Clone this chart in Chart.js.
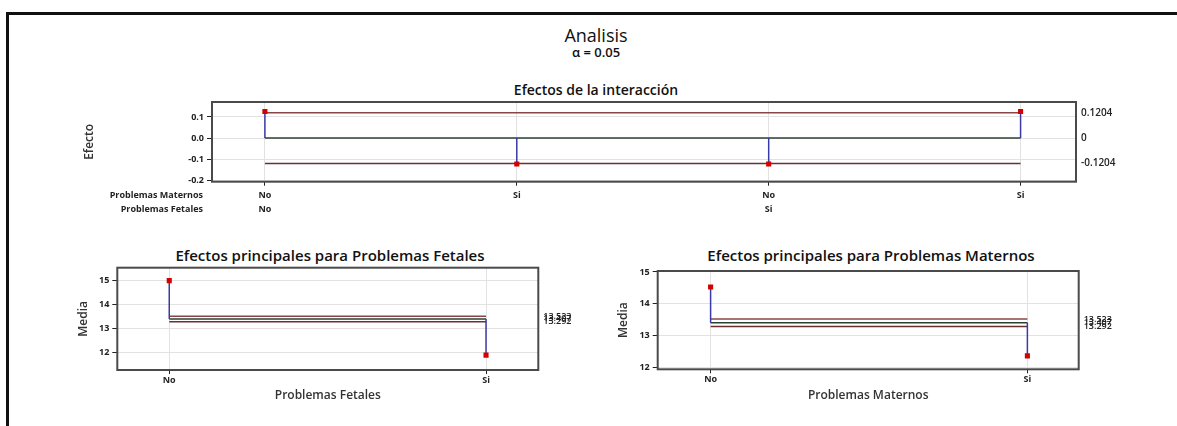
<!DOCTYPE html>
<html lang="es">
<head>
  <meta charset="UTF-8">
  <title>Analisis</title>
  <script src="https://cdn.jsdelivr.net/npm/chart.js"></script>
  <style>
    html,
    body {
      margin: 0;
      padding: 0;
      background: #fff;
      overflow: hidden;
    }

    body {
      width: 1177px;
      height: 426px;
      position: relative;
      font-family: "Open Sans", sans-serif;
      color: #111;
    }

    .frame {
      position: absolute;
      left: 6px;
      top: 12px;
      width: 1200px;
      height: 500px;
      border: 3px solid #111;
    }

    .txt {
      position: absolute;
      white-space: nowrap;
      transform: translate(-50%, -50%);
      line-height: 1;
    }

    .box {
      position: absolute;
    }
  </style>
</head>

<body>
  <div class="frame"></div>

  <div class="txt" style="left:596px; top:35px; font-size:18px; font-weight:500;">Analisis</div>
  <div class="txt" style="left:596px; top:52px; font-size:13px; font-weight:600;">α = 0.05</div>
  <div class="txt" style="left:596px; top:90px; font-size:14px; font-weight:600;">Efectos de la interacción</div>
  <div class="txt" style="left:330px; top:255px; font-size:15px; font-weight:600;">Efectos principales para Problemas Fetales</div>
  <div class="txt" style="left:871px; top:255px; font-size:15px; font-weight:600;">Efectos principales para Problemas Maternos</div>

  <canvas id="interChart" class="box" style="left:0; top:95px;" width="1177" height="125"></canvas>
  <canvas id="fetalChart" class="box" style="left:0; top:240px;" width="590" height="186"></canvas>
  <canvas id="maternalChart" class="box" style="left:590px; top:240px;" width="587" height="186"></canvas>

  <script>
    // --- data ---
    // interaction panel
    const interMaternos = ['No', 'Si', 'No', 'Si'];
    const interFetales = ['No', 'No', 'Si', 'Si'];
    const interEffects = [0.126, -0.123, -0.123, 0.126];
    const interCenter = 0;
    const interLimits = [0.1204, -0.1204];
    const interLimitLabels = ['0.1204', '0', '-0.1204'];
    const interYTicks = [-0.2, -0.1, 0.0, 0.1];

    // main effects panels
    const levels = ['No', 'Si'];
    const fetalMeans = [15.0, 11.9];
    const maternalMeans = [14.53, 12.37];
    const meanCenter = 13.407;
    const meanLimits = [13.523, 13.292];
    const meanLimitLabels = ['13.523', '13.407', '13.292'];
    const fetalYTicks = [12, 13, 14, 15];
    const maternalYTicks = [12, 13, 14, 15];

    Chart.defaults.font.family = '"Open Sans", sans-serif';
    Chart.defaults.color = '#222';

    const RED = '#d40000';
    const STEM = '#3a3aa6';
    const UPPER = '#8a4545';
    const MID = '#2c3f30';
    const LOWER = '#6a3030';
    const GRID = '#e2e2e2';

    // box round the plot area
    const plotBox = {
      id: 'plotBox',
      afterDraw(chart) {
        const { ctx, chartArea: a } = chart;
        ctx.save();
        ctx.strokeStyle = '#4a4a4a';
        ctx.lineWidth = 2;
        ctx.strokeRect(a.left, a.top, a.right - a.left, a.bottom - a.top);
        ctx.restore();
      }
    };

    function pts(xs, y) {
      return xs.map(x => ({ x: x, y: y }));
    }

    function stems(values, center) {
      const out = [];
      values.forEach((v, i) => {
        out.push({ x: i, y: center }, { x: i, y: v }, { x: i, y: null });
      });
      return out;
    }

    function buildDatasets(values, center, limits) {
      const last = values.length - 1;
      return [
        {
          data: values.map((v, i) => ({ x: i, y: v })),
          showLine: false,
          pointStyle: 'rect',
          pointRadius: 3.6,
          pointBackgroundColor: RED,
          pointBorderWidth: 0
        },
        { data: stems(values, center), borderColor: STEM, borderWidth: 1.5, pointRadius: 0, spanGaps: false },
        { data: pts([0, last], limits[0]), borderColor: UPPER, borderWidth: 1.5, pointRadius: 0 },
        { data: pts([0, last], center), borderColor: MID, borderWidth: 1.5, pointRadius: 0 },
        { data: pts([0, last], limits[1]), borderColor: LOWER, borderWidth: 1.5, pointRadius: 0 }
      ];
    }

    // fixed axis sizes so the plot areas land where they should
    function fixSize(s, w, h) {
      if (w !== undefined) s.width = w;
      if (h !== undefined) s.height = h;
      s.paddingTop = 0;
      s.paddingBottom = 0;
      s.paddingLeft = 0;
      s.paddingRight = 0;
    }

    function makeChart(id, cfg) {
      const limitVals = [cfg.limits[0], cfg.center, cfg.limits[1]];
      return new Chart(document.getElementById(id), {
        type: 'line',
        data: { datasets: buildDatasets(cfg.values, cfg.center, cfg.limits) },
        options: {
          responsive: false,
          animation: false,
          layout: { padding: cfg.padding },
          plugins: { legend: { display: false }, tooltip: { enabled: false } },
          scales: {
            x: {
              type: 'linear',
              min: cfg.xMin,
              max: cfg.xMax,
              afterBuildTicks: s => { s.ticks = cfg.values.map((v, i) => ({ value: i })); },
              afterFit: s => fixSize(s, undefined, cfg.xHeight),
              ticks: {
                autoSkip: false,
                maxRotation: 0,
                padding: cfg.xPad,
                font: { size: 9, weight: 'bold', lineHeight: cfg.xLineHeight },
                color: '#222',
                callback: cfg.xLabel
              },
              grid: { color: GRID, tickColor: '#222', tickLength: 4 },
              border: { display: false },
              title: cfg.xTitle ? {
                display: true,
                text: cfg.xTitle,
                font: { size: 12, weight: '600' },
                color: '#333',
                padding: 0
              } : { display: false }
            },
            y: {
              min: cfg.yMin,
              max: cfg.yMax,
              afterBuildTicks: s => { s.ticks = cfg.yTicks.map(v => ({ value: v })); },
              afterFit: s => fixSize(s, cfg.yWidth),
              ticks: {
                autoSkip: false,
                padding: 3,
                font: { size: 9, weight: 'bold' },
                color: '#222',
                callback: cfg.yLabel
              },
              grid: { color: GRID, tickColor: '#222', tickLength: 5 },
              border: { display: false },
              title: {
                display: true,
                text: cfg.yTitle,
                font: { size: 12, weight: '600' },
                color: '#333',
                padding: 0
              }
            },
            y2: {
              position: 'right',
              min: cfg.yMin,
              max: cfg.yMax,
              afterBuildTicks: s => { s.ticks = limitVals.map(v => ({ value: v })); },
              afterFit: s => fixSize(s, cfg.y2Width),
              ticks: {
                autoSkip: false,
                padding: 5,
                font: { size: cfg.y2Size, weight: '600' },
                color: '#222',
                callback: (v, i) => cfg.limitLabels[i]
              },
              grid: { display: false, drawTicks: false },
              border: { display: false }
            }
          }
        },
        plugins: [plotBox].concat(cfg.extra || [])
      });
    }

    // row names in front of the two label rows of the interaction panel
    const rowNames = {
      id: 'rowNames',
      afterDraw(chart) {
        const { ctx, chartArea: a } = chart;
        ctx.save();
        ctx.font = 'bold 9px "Open Sans", sans-serif';
        ctx.fillStyle = '#222';
        ctx.textAlign = 'right';
        ctx.textBaseline = 'middle';
        ctx.fillText('Problemas Maternos', a.left - 9, a.bottom + 13.5);
        ctx.fillText('Problemas Fetales', a.left - 9, a.bottom + 27.5);
        ctx.restore();
      }
    };

    makeChart('interChart', {
      values: interEffects,
      center: interCenter,
      limits: interLimits,
      limitLabels: interLimitLabels,
      yTicks: interYTicks,
      yMin: -0.207,
      yMax: 0.171,
      xMin: -0.21,
      xMax: 3.22,
      padding: { left: 82, right: 31, top: 7, bottom: 5 },
      yWidth: 130,
      y2Width: 70,
      y2Size: 10,
      xHeight: 33.3,
      xPad: 3,
      xLineHeight: 1.5,
      yTitle: 'Efecto',
      yLabel: v => v.toFixed(1),
      xLabel: (v, i) => {
        const second = (i === 0 || interFetales[i] !== interFetales[i - 1]) ? interFetales[i] : '';
        return [interMaternos[i], second];
      },
      extra: [rowNames]
    });

    makeChart('fetalChart', {
      values: fetalMeans,
      center: meanCenter,
      limits: meanLimits,
      limitLabels: meanLimitLabels,
      yTicks: fetalYTicks,
      yMin: 11.28,
      yMax: 15.54,
      xMin: -0.164,
      xMax: 1.165,
      padding: { left: 76, right: 6.7, top: 27.7, bottom: 23 },
      yWidth: 41.3,
      y2Width: 45,
      y2Size: 9,
      xHeight: 33,
      xPad: 1,
      xLineHeight: 1.2,
      yTitle: 'Media',
      xTitle: 'Problemas Fetales',
      yLabel: v => String(v),
      xLabel: (v, i) => levels[i]
    });

    makeChart('maternalChart', {
      values: maternalMeans,
      center: meanCenter,
      limits: meanLimits,
      limitLabels: meanLimitLabels,
      yTicks: maternalYTicks,
      yMin: 11.95,
      yMax: 15.03,
      xMin: -0.167,
      xMax: 1.162,
      padding: { left: 26.7, right: 53.3, top: 31, bottom: 23 },
      yWidth: 41,
      y2Width: 45,
      y2Size: 9,
      xHeight: 33.7,
      xPad: 1,
      xLineHeight: 1.2,
      yTitle: 'Media',
      xTitle: 'Problemas Maternos',
      yLabel: v => String(v),
      xLabel: (v, i) => levels[i]
    });
  </script>
</body>

</html>
